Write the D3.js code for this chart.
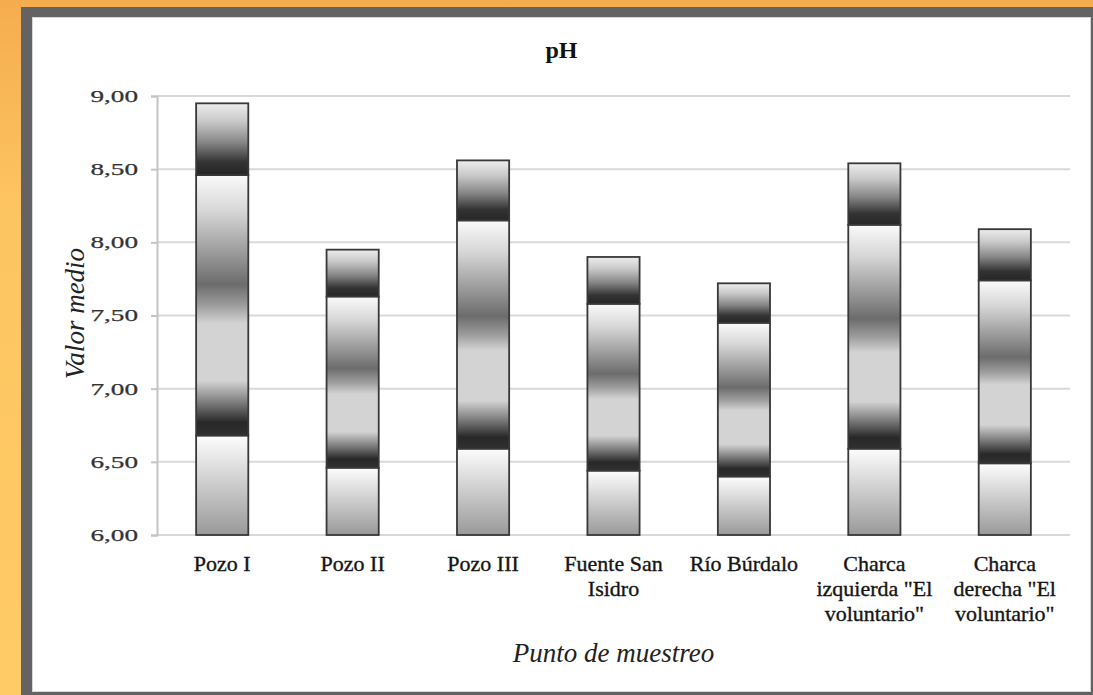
<!DOCTYPE html>
<html>
<head>
<meta charset="utf-8">
<script src="https://cdn.jsdelivr.net/npm/d3@7/dist/d3.min.js"></script>
<style>
  html, body { margin: 0; padding: 0; background: #ffffff; overflow: hidden; }
  svg { display: block; }
</style>
</head>
<body>
<svg id="chart" width="1093" height="695"></svg>
<script>
// Sampling points along the x axis
const categories = [
  "Pozo I", "Pozo II", "Pozo III", "Fuente San Isidro", "Río Búrdalo",
  "Charca izquierda \"El voluntario\"", "Charca derecha \"El voluntario\""
];
// Upper edge of each stacked band (pH units); every band starts where the previous ends
const lowerBand  = [6.68, 6.46, 6.59, 6.44, 6.40, 6.59, 6.49];
const middleBand = [8.46, 7.63, 8.15, 7.58, 7.45, 8.12, 7.74];
const upperBand  = [8.95, 7.95, 8.56, 7.90, 7.72, 8.54, 8.09];
// Value axis
const yTicks = [6.0, 6.5, 7.0, 7.5, 8.0, 8.5, 9.0];
const yTickLabels = ["6,00", "6,50", "7,00", "7,50", "8,00", "8,50", "9,00"];
const yDomain = [6, 9];

const W = 1093, H = 695;
const plot = { left: 157, right: 1070, top: 96, bottom: 535 };
const serif = "'Liberation Serif', 'Times New Roman', serif";

const svg = d3.select("#chart");
const defs = svg.append("defs");

// ---- page background and frame ----
const bg = defs.append("linearGradient").attr("id", "bgGrad")
  .attr("x1", 0).attr("y1", 0).attr("x2", 0).attr("y2", 1);
bg.append("stop").attr("offset", 0).attr("stop-color", "#f5ac4f");
bg.append("stop").attr("offset", 0.3).attr("stop-color", "#fdc561");
bg.append("stop").attr("offset", 1).attr("stop-color", "#ffcb66");

svg.append("rect").attr("width", W).attr("height", H).attr("fill", "url(#bgGrad)");
svg.append("rect").attr("x", 21).attr("y", 7).attr("width", W - 21).attr("height", H - 7)
  .attr("fill", "#636363");
svg.append("rect").attr("x", 32).attr("y", 17).attr("width", 1059).attr("height", 675)
  .attr("fill", "#ffffff");
svg.append("rect").attr("x", 32.5).attr("y", 17.5).attr("width", 1058).attr("height", 674)
  .attr("fill", "none").attr("stroke", "#d6d6d6").attr("stroke-width", 1);

// ---- band gradients ----
function makeGradient(id, stops) {
  const g = defs.append("linearGradient").attr("id", id)
    .attr("x1", 0).attr("y1", 0).attr("x2", 0).attr("y2", 1);
  stops.forEach(([o, c]) => g.append("stop").attr("offset", o).attr("stop-color", c));
}
makeGradient("gradLower", [[0, "#fdfdfd"], [0.15, "#eeeeee"], [1, "#999999"]]);
makeGradient("gradMiddle", [
  [0, "#fafafa"], [0.14, "#d6d6d6"], [0.3, "#9a9a9a"], [0.42, "#6c6c6c"],
  [0.5, "#9c9c9c"], [0.57, "#d3d3d3"], [0.79, "#d3d3d3"], [0.87, "#808080"],
  [0.95, "#282828"], [1, "#303030"]
]);
makeGradient("gradUpper", [
  [0, "#ededed"], [0.25, "#c9c9c9"], [0.55, "#858585"], [0.82, "#333333"], [1, "#262626"]
]);

// ---- scales ----
const x = d3.scaleBand().domain(categories)
  .range([plot.left, plot.right]).paddingInner(0.6).paddingOuter(0.3);
const y = d3.scaleLinear().domain(yDomain).range([plot.bottom, plot.top]);

// ---- gridlines ----
svg.append("g").selectAll("line").data(yTicks).join("line")
  .attr("x1", plot.left).attr("x2", plot.right)
  .attr("y1", d => y(d)).attr("y2", d => y(d))
  .attr("stroke", "#d9d9d9").attr("stroke-width", 2);

// ---- y axis ----
const yAxis = d3.axisLeft(y).tickValues(yTicks)
  .tickFormat((d, i) => yTickLabels[i]).tickSize(6).tickPadding(13);
const ya = svg.append("g").attr("transform", `translate(${plot.left},0)`).call(yAxis);
ya.select(".domain").attr("stroke", "#c4c4c4").attr("stroke-width", 2);
ya.selectAll(".tick line").attr("stroke", "#c4c4c4").attr("stroke-width", 2);
ya.selectAll(".tick text")
  .attr("font-family", serif).attr("font-size", 17).attr("fill", "#333")
  .attr("stroke", "#333").attr("stroke-width", 0.25)
  .each(function () {
    const len = this.getComputedTextLength();
    d3.select(this).attr("textLength", len * 1.6).attr("lengthAdjust", "spacingAndGlyphs");
  });

// ---- stacked bars ----
const bands = [
  { key: "lower",  fill: "url(#gradLower)" },
  { key: "middle", fill: "url(#gradMiddle)" },
  { key: "upper",  fill: "url(#gradUpper)" }
];
const segments = [];
categories.forEach((c, i) => {
  const edges = [yDomain[0], lowerBand[i], middleBand[i], upperBand[i]];
  bands.forEach((b, j) => segments.push({ cat: c, y0: edges[j], y1: edges[j + 1], fill: b.fill }));
});
svg.append("g").selectAll("rect").data(segments).join("rect")
  .attr("x", d => x(d.cat))
  .attr("width", x.bandwidth())
  .attr("y", d => y(d.y1))
  .attr("height", d => y(d.y0) - y(d.y1))
  .attr("fill", d => d.fill)
  .attr("stroke", "#383838").attr("stroke-width", 1.8);

// ---- category labels (wrapped to the band step) ----
const catG = svg.append("g").attr("font-family", serif).attr("font-size", 22)
  .attr("fill", "#151515").attr("stroke", "#151515").attr("stroke-width", 0.35);
categories.forEach(c => {
  const cx = x(c) + x.bandwidth() / 2;
  const t = catG.append("text").attr("text-anchor", "middle").attr("x", cx).attr("y", 571);
  const words = c.split(" ");
  let line = [];
  let tspan = t.append("tspan").attr("x", cx).attr("dy", 0);
  words.forEach(w => {
    line.push(w);
    tspan.text(line.join(" "));
    if (tspan.node().getComputedTextLength() > x.step() - 6 && line.length > 1) {
      line.pop();
      tspan.text(line.join(" "));
      line = [w];
      tspan = t.append("tspan").attr("x", cx).attr("dy", 25).text(w);
    }
  });
});

// ---- titles ----
svg.append("text").attr("x", (plot.left + plot.right) / 2 - 52).attr("y", 58)
  .attr("text-anchor", "middle").attr("font-family", serif)
  .attr("font-size", 24).attr("font-weight", "bold").attr("fill", "#111").text("pH");

svg.append("text")
  .attr("transform", `translate(84,${(plot.top + plot.bottom) / 2 - 2}) rotate(-90)`)
  .attr("text-anchor", "middle").attr("font-family", serif)
  .attr("font-size", 27).attr("font-style", "italic").attr("fill", "#222").text("Valor medio");

svg.append("text").attr("x", (plot.left + plot.right) / 2).attr("y", 662)
  .attr("text-anchor", "middle").attr("font-family", serif)
  .attr("font-size", 27).attr("font-style", "italic").attr("fill", "#222").text("Punto de muestreo");
</script>
</body>
</html>
